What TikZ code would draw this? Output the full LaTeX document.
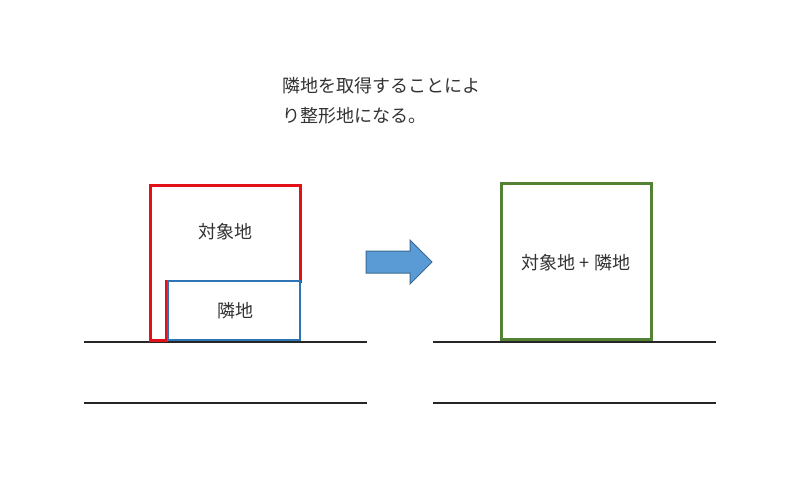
\documentclass[tikz,border=0pt]{standalone}
\usepackage{fontspec}
\setmainfont{Noto Sans CJK JP}
\usepackage{xcolor}
\usetikzlibrary{calc, positioning}

\definecolor{hred}{HTML}{E3101A}
\definecolor{hblue}{HTML}{2E75B6}
\definecolor{hgreen}{HTML}{548235}
\definecolor{afill}{HTML}{5B9BD5}
\definecolor{aline}{HTML}{3A6A96}

\tikzset{
    lbl/.style={font=\fontsize{18}{21}\selectfont, text=black!80, inner sep=0pt},
    road/.style={line width=1.2pt, black!85},
}

\begin{document}
\begin{tikzpicture}[x=1pt, y=-1pt, line join=miter]
    \useasboundingbox[fill=white] (0,0) rectangle (800,497);

    %説明文
    \node[lbl, anchor=west] (t1) at (282,86) {隣地を取得することによ};
    \node[lbl, anchor=west] (t2) at (282,116) {り整形地になる。};

    % 道路（左）
    \draw[road] (84,342) -- (367,342);
    \draw[road] (84,403) -- (367,403);
    % 道路（右）
    \draw[road] (433,342) -- (716,342);
    \draw[road] (433,403) -- (716,403);

    % 対象地と隣地
    \draw[hred, line width=3pt] (150,186) -- (300,186) -- (300,281) -- (166,281)
        -- (166,340) -- (150,340) -- cycle;
    \draw[hblue, line width=2.5pt, fill=white] (168,281) rectangle (300,340);
    \node[lbl] (taisho) at (225,232) {対象地};
    \node[lbl] (rinchi) at (235,311) {隣地};

    % 矢印
    \draw[aline, fill=afill, line width=1pt] (366,251) -- (410,251) -- (410,240)
        -- (432,262) -- (410,284) -- (410,273) -- (366,273) -- cycle;

    % 取得後
    \draw[hgreen, line width=3pt] (501,184) rectangle (651,339);
    \node[lbl] (seikei) at (576,263) {対象地 + 隣地};
\end{tikzpicture}
\end{document}
